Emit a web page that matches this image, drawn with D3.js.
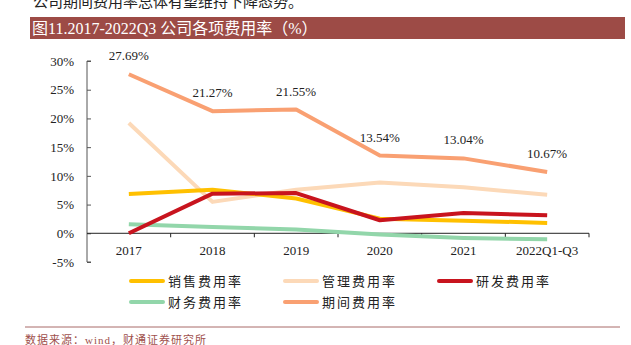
<!DOCTYPE html>
<html><head><meta charset="utf-8">
<script src="https://cdn.jsdelivr.net/npm/d3@7"></script>
<style>
body{margin:0;background:#fff;}
svg{display:block;}
text{font-family:"Liberation Serif","Noto Sans CJK SC",serif;}
</style></head>
<body>
<svg id="c" width="631" height="345"></svg>
<script>
const categories = ["2017","2018","2019","2020","2021","2022Q1-Q3"];
const seriesNames = ["销售费用率","管理费用率","研发费用率","财务费用率","期间费用率"];
const sales   = [6.86, 7.6, 6.05, 2.55, 2.2, 1.8];
const admin   = [19.2, 5.47, 7.6, 8.84, 8.0, 6.7];
const rnd     = [0.0, 6.9, 7.0, 2.27, 3.55, 3.14];
const finance = [1.57, 1.1, 0.64, -0.23, -0.8, -1.05];
const period  = [27.69, 21.27, 21.55, 13.54, 13.04, 10.67];
const yTicks  = [-5, 0, 5, 10, 15, 20, 25, 30];
const colors  = ["#FFC000", "#FCD9B8", "#C8141E", "#92D6AA", "#F9A072"];

const seriesVals = [sales, admin, rnd, finance, period];
const svg = d3.select("#c");

// top cut-off sentence
svg.append("text").attr("x",33).attr("y",7).attr("font-size",15).attr("fill","#222")
  .text("公司期间费用率总体有望维持下降态势。");

// title bar
svg.append("rect").attr("x",30).attr("y",17).attr("width",595).attr("height",22).attr("fill","#9D4B46");
svg.append("text").attr("x",32).attr("y",34).attr("font-size",16).attr("fill","#fff")
  .text("图11.2017-2022Q3 公司各项费用率（%）");

const x = d3.scaleBand().domain(categories).range([87,589]);
const y = d3.scaleLinear().domain([-5,30]).range([262,61]);

// y axis
const yAxis = svg.append("g").attr("transform","translate(87,0)")
  .call(d3.axisRight(y).tickValues(yTicks).tickSize(4).tickFormat(d=>d+"%"));
yAxis.select(".domain").attr("stroke","#555").attr("d","M4,61H0V262H4");
yAxis.selectAll(".tick line").attr("stroke","#555");
yAxis.selectAll(".tick text").attr("x",-13).attr("text-anchor","end")
  .attr("font-size",13).attr("fill","#222").attr("font-family","Liberation Serif");

// x axis at 0
const xAxis = svg.append("g").attr("transform",`translate(0,${y(0)})`)
  .call(d3.axisBottom(x).tickSize(0).tickPadding(12));
xAxis.select(".domain").attr("stroke","#222").attr("d","M87,0H589");
xAxis.selectAll(".tick text").attr("font-size",13).attr("fill","#222").attr("font-family","Liberation Serif");
// boundary tick marks
svg.append("g").selectAll("line").data(categories.slice(1).concat(["end"])).join("line")
  .attr("x1",(d,i)=>87+x.step()*(i+1)).attr("x2",(d,i)=>87+x.step()*(i+1))
  .attr("y1",y(0)).attr("y2",y(0)+4).attr("stroke","#222");

const cx = c => x(c)+x.bandwidth()/2;
const line = d3.line().x((d,i)=>cx(categories[i])).y(d=>y(d));

const order = [3,1,0,2,4];
order.forEach(k=>{
  svg.append("path").datum(seriesVals[k]).attr("d",line)
    .attr("fill","none").attr("stroke",colors[k]).attr("stroke-width",4)
    .attr("stroke-linejoin","round");
});

// period labels
svg.append("g").selectAll("text").data(period).join("text")
  .attr("x",(d,i)=>cx(categories[i])).attr("y",d=>y(d)-14)
  .attr("text-anchor","middle").attr("font-size",13).attr("fill","#222")
  .attr("font-family","Liberation Serif")
  .text(d=>d.toFixed(2)+"%");

// legend
const legPos = [[131,281],[285,281],[439,281],[131,302],[285,302]];
seriesNames.forEach((n,k)=>{
  const [lx,ly] = legPos[k];
  svg.append("line").attr("x1",lx).attr("x2",lx+32).attr("y1",ly).attr("y2",ly)
    .attr("stroke",colors[k]).attr("stroke-width",4).attr("stroke-linecap","round");
  svg.append("text").attr("x",lx+37).attr("y",ly+5).attr("font-size",13)
    .attr("letter-spacing",2).attr("fill","#222").text(n);
});

// bottom separator & source
svg.append("line").attr("x1",25).attr("x2",620).attr("y1",327).attr("y2",327)
  .attr("stroke","#A86A68").attr("stroke-width",1);
svg.append("text").attr("x",25).attr("y",344).attr("font-size",11).attr("fill","#A0504C")
  .attr("letter-spacing",1).text("数据来源：wind，财通证券研究所");
</script>
</body></html>
